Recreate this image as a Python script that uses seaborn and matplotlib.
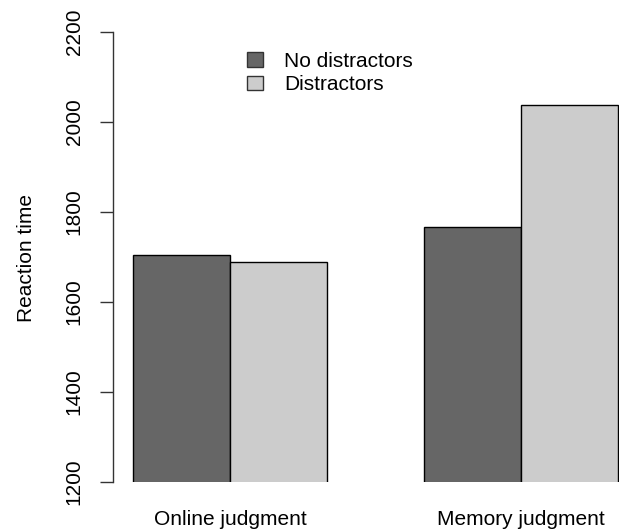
import pandas as pd
import seaborn as sns
import matplotlib.pyplot as plt
from matplotlib.patches import Patch

# values
conditions = ['Online judgment', 'Memory judgment']
groups = ['No distractors', 'Distractors']
no_distractors = [1704, 1766]
distractors = [1690, 2038]
yticks = [1200, 1400, 1600, 1800, 2000, 2200]
colors = ['#666666', '#CCCCCC']

df = pd.DataFrame({
    'condition': conditions * 2,
    'group': [groups[0]] * 2 + [groups[1]] * 2,
    'rt': no_distractors + distractors,
})

sns.set_style('white')
plt.rcParams['font.family'] = ['Liberation Sans', 'DejaVu Sans']
plt.rcParams['text.color'] = 'black'
plt.rcParams['xtick.color'] = 'black'
plt.rcParams['ytick.color'] = 'black'
fs = 15

fig = plt.figure(figsize=(6.19, 5.31), dpi=100)
# axes placed in pixels: spine at x=113, y from 32 to 482
ax = fig.add_axes([113 / 619, 49 / 531, 506 / 619, 450 / 531])

sns.barplot(data=df, x='condition', y='rt', hue='group', order=conditions,
            hue_order=groups, palette=colors, width=2 / 3, gap=0,
            edgecolor='black', linewidth=1, saturation=1, legend=False, ax=ax)

ax.set_ylim(1200, 2200)
ax.set_xlim(-0.402, 1.337)
ax.set_yticks(yticks)
ax.set_yticklabels([str(t) for t in yticks], rotation=90, va='center', fontsize=fs)
ax.tick_params(axis='y', length=9.5, width=1, color='#333333', pad=11.5, left=True)
ax.tick_params(axis='x', length=0, pad=20, labelsize=fs)
ax.set_xlabel('')
ax.set_ylabel('')
for s in ['top', 'right', 'bottom']:
    ax.spines[s].set_visible(False)
ax.spines['left'].set_color('#333333')
ax.spines['left'].set_linewidth(1)

fig.text(27 / 619, 1 - 258 / 531, 'Reaction time', rotation=90,
         ha='center', va='center', fontsize=fs)

handles = [Patch(facecolor=c, edgecolor='#333333', linewidth=1) for c in colors]
ax.legend(handles, groups, loc='upper left', bbox_to_anchor=(247 / 619, 1 - 52 / 531),
          bbox_transform=fig.transFigure, frameon=False, fontsize=fs,
          borderpad=0, borderaxespad=0, handlelength=0.75, handleheight=0.7,
          handletextpad=1.05, labelspacing=0.2)

fig.savefig('out.png', dpi=100)
